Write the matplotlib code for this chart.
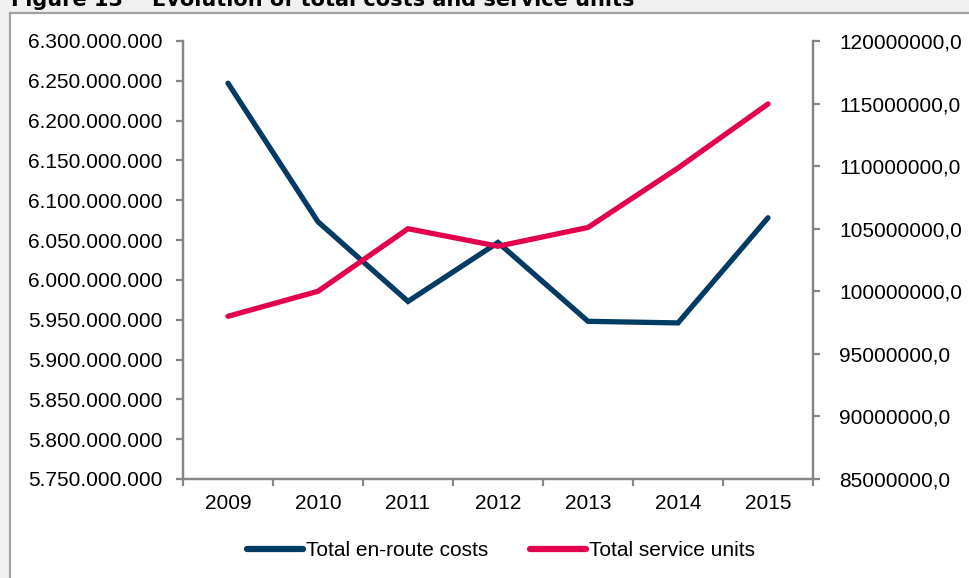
import matplotlib
matplotlib.use("Agg")
import matplotlib.pyplot as plt
from matplotlib.patches import Rectangle
from matplotlib.lines import Line2D
from matplotlib.ticker import FuncFormatter, FixedLocator
import numpy as np

# data
years = ["2009", "2010", "2011", "2012", "2013", "2014", "2015"]
costs = [6247000000, 6073000000, 5973000000, 6047000000, 5948000000, 5946000000, 6078000000]
service_units = [98000000, 100000000, 105000000, 103600000, 105100000, 109850000, 114970000]

NAVY = "#003b64"
RED = "#e2004f"
GRID = "#868686"
FS = 15

plt.rcParams["font.family"] = ["Liberation Sans", "DejaVu Sans"]

fig = plt.figure(figsize=(9.7, 5.78), dpi=100)
fig.patch.set_facecolor("#f0f0f0")

# white panel with grey frame, running off the right and bottom edges
W, H = 970, 578
fig.patches.append(Rectangle((10.5 / W, -0.05), 1.1, 1.05 - 12.5 / H, transform=fig.transFigure,
                             facecolor="white", edgecolor="#a0a0a0", linewidth=1.6, zorder=-5))

fig.text(11 / W, 1 - 6 / H, "Figure 13    Evolution of total costs and service units",
         fontsize=15, fontweight="bold", family="DejaVu Sans", va="baseline", ha="left")

ax = fig.add_axes([183 / W, 1 - 479 / H, 630 / W, 438 / H])
ax.patch.set_alpha(0)
ax2 = ax.twinx()
ax2.patch.set_alpha(0)

x = np.arange(len(years))
ax.plot(x, costs, color=NAVY, lw=3.8, solid_capstyle="round", solid_joinstyle="miter")
ax2.plot(x, service_units, color=RED, lw=3.8, solid_capstyle="round", solid_joinstyle="miter")

ax.set_xlim(-0.5, len(years) - 0.5)
ax.set_ylim(5.75e9, 6.3e9)
ax.set_yticks(np.arange(5.75e9, 6.30001e9, 0.05e9))
ax.yaxis.set_major_formatter(FuncFormatter(lambda v, p: f"{v:,.0f}".replace(",", ".")))

ax2.set_ylim(85e6, 120e6)
ax2.set_yticks(np.arange(85e6, 120.001e6, 5e6))
ax2.yaxis.set_major_formatter(FuncFormatter(lambda v, p: f"{v:.1f}".replace(".", ",")))

ax.set_xticks(x)
ax.set_xticklabels(years)
ax.xaxis.set_minor_locator(FixedLocator(np.arange(-0.5, len(years), 1.0)))
ax.tick_params(axis="x", which="major", length=0, pad=11, labelsize=FS)
ax.tick_params(axis="x", which="minor", length=5, width=1.6, color=GRID, direction="out")
ax.tick_params(axis="y", length=5, width=1.6, color=GRID, pad=10, labelsize=FS)
ax2.tick_params(axis="y", length=5, width=1.6, color=GRID, pad=14, labelsize=FS)

for a in (ax, ax2):
    a.spines["top"].set_visible(False)
    for side in ("left", "right", "bottom"):
        a.spines[side].set_color(GRID)
        a.spines[side].set_linewidth(1.6)

handles = [Line2D([], [], color=NAVY, lw=4.5, solid_capstyle="round"),
           Line2D([], [], color=RED, lw=4.5, solid_capstyle="round")]
fig.legend(handles, ["Total en-route costs", "Total service units"], loc="center",
           bbox_to_anchor=(501 / W, 1 - 551 / H), ncol=2, frameon=False, fontsize=FS,
           handlelength=2.7, handletextpad=0.15, columnspacing=2.0)

fig.savefig("out.png", dpi=100, facecolor=fig.get_facecolor())
